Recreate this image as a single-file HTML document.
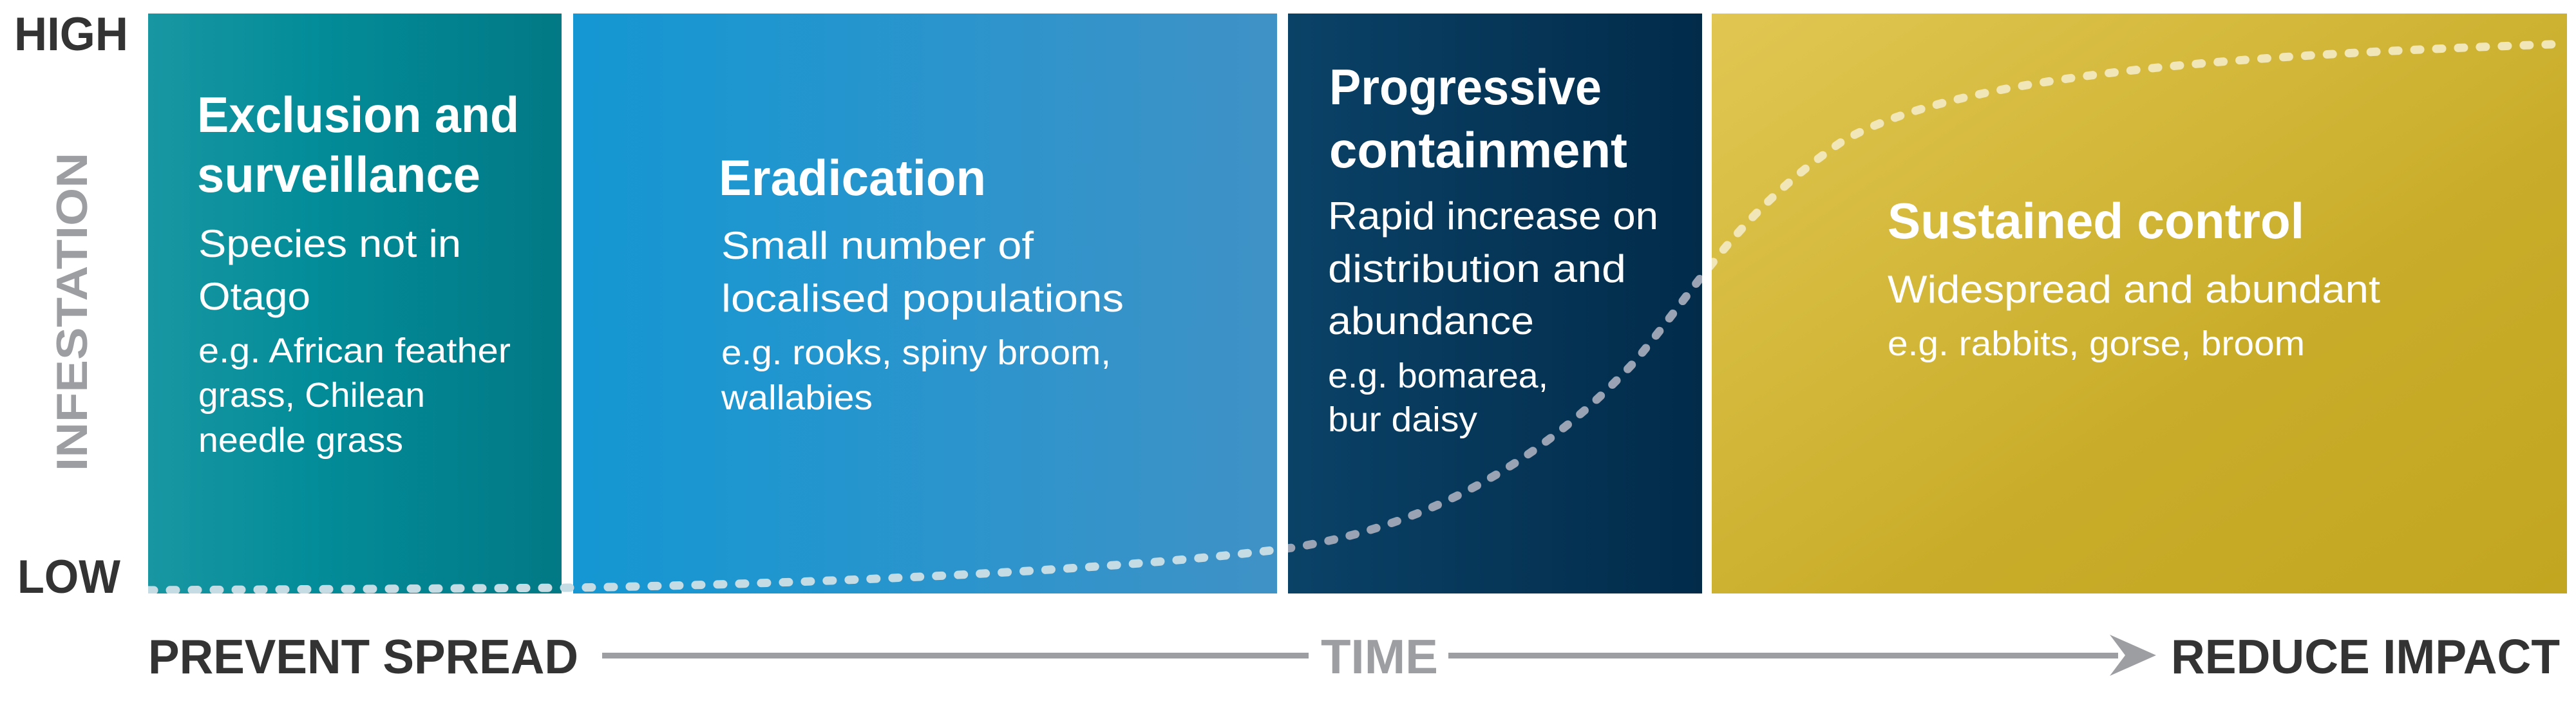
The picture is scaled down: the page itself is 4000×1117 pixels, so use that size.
<!DOCTYPE html>
<html><head><meta charset="utf-8"><style>html,body{margin:0;padding:0;background:#fff}svg{display:block}</style></head>
<body>
<svg width="4000" height="1117" viewBox="0 0 4000 1117" xmlns="http://www.w3.org/2000/svg" font-family="Liberation Sans, sans-serif">
<defs>
<linearGradient id="g1" x1="0" y1="0" x2="1" y2="0"><stop offset="0" stop-color="#1897a2"/><stop offset="0.4" stop-color="#038c99"/><stop offset="1" stop-color="#027985"/></linearGradient>
<linearGradient id="g2" x1="0" y1="0" x2="1" y2="0"><stop offset="0" stop-color="#1497d3"/><stop offset="1" stop-color="#3f92c6"/></linearGradient>
<linearGradient id="g3" x1="0" y1="0" x2="1" y2="0"><stop offset="0" stop-color="#0a4267"/><stop offset="1" stop-color="#022b4a"/></linearGradient>
<linearGradient id="g4" x1="0" y1="0" x2="1" y2="1"><stop offset="0" stop-color="#e1c752"/><stop offset="0.6" stop-color="#c9ad2a"/><stop offset="1" stop-color="#c2a520"/></linearGradient>
<clipPath id="c12"><rect x="230" y="21" width="1753" height="901"/></clipPath>
<clipPath id="c3"><rect x="2000" y="21" width="643" height="901"/></clipPath>
<clipPath id="c4"><rect x="2658" y="21" width="1328" height="901"/></clipPath>
</defs>
<rect x="230" y="21" width="642" height="901" fill="url(#g1)"/>
<rect x="890" y="21" width="1093" height="901" fill="url(#g2)"/>
<rect x="2000" y="21" width="643" height="901" fill="url(#g3)"/>
<rect x="2658" y="21" width="1328" height="901" fill="url(#g4)"/>
<g fill="none" stroke-width="13" stroke-linecap="round" stroke-dasharray="9 25">
<path d="M230,917 L890,913 C1300,906 1750,885 2006,851 C2250,812 2420,690 2540,560 C2640,440 2700,330 2860,220 C3050,110 3500,85 3986,68" stroke="#c6dce4" clip-path="url(#c12)"/>
<path d="M230,917 L890,913 C1300,906 1750,885 2006,851 C2250,812 2420,690 2540,560 C2640,440 2700,330 2860,220 C3050,110 3500,85 3986,68" stroke="#9aa3b3" clip-path="url(#c3)"/>
<path d="M230,917 L890,913 C1300,906 1750,885 2006,851 C2250,812 2420,690 2540,560 C2640,440 2700,330 2860,220 C3050,110 3500,85 3986,68" stroke="#f1e6b8" clip-path="url(#c4)"/>
</g>
<g fill="#333" font-weight="bold">
<text x="22" y="78" font-size="73" textLength="177" lengthAdjust="spacingAndGlyphs">HIGH</text>
<text x="27" y="921" font-size="73" textLength="160" lengthAdjust="spacingAndGlyphs">LOW</text>
<text x="230" y="1046" font-size="75" textLength="668" lengthAdjust="spacingAndGlyphs">PREVENT SPREAD</text>
<text x="3371" y="1046" font-size="75" textLength="604" lengthAdjust="spacingAndGlyphs">REDUCE IMPACT</text>
</g>
<text x="2051" y="1046" font-size="75" font-weight="bold" fill="#9d9ea2" textLength="182" lengthAdjust="spacingAndGlyphs">TIME</text>
<text transform="translate(135,732) rotate(-90)" font-size="68" font-weight="bold" fill="#9d9ea2" textLength="495" lengthAdjust="spacingAndGlyphs">INFESTATION</text>
<g fill="#9d9ea2">
<rect x="935" y="1014" width="1097" height="9"/>
<rect x="2249" y="1014" width="1040" height="9"/>
<polygon points="3276,986 3348,1018 3276,1050 3300,1018"/>
</g>
<g fill="#fff" font-weight="bold" font-size="78">
<text x="306" y="205" textLength="500" lengthAdjust="spacingAndGlyphs">Exclusion and</text>
<text x="306" y="298" textLength="440" lengthAdjust="spacingAndGlyphs">surveillance</text>
<text x="1116" y="303" textLength="415" lengthAdjust="spacingAndGlyphs">Eradication</text>
<text x="2064" y="162" textLength="423" lengthAdjust="spacingAndGlyphs">Progressive</text>
<text x="2064" y="260" textLength="463" lengthAdjust="spacingAndGlyphs">containment</text>
<text x="2931" y="370" textLength="647" lengthAdjust="spacingAndGlyphs">Sustained control</text>
</g>
<g fill="#fff" font-size="60">
<text x="308" y="399" textLength="408" lengthAdjust="spacingAndGlyphs">Species not in</text>
<text x="308" y="481" textLength="174" lengthAdjust="spacingAndGlyphs">Otago</text>
<text x="1120" y="402" textLength="485" lengthAdjust="spacingAndGlyphs">Small number of</text>
<text x="1120" y="484" textLength="625" lengthAdjust="spacingAndGlyphs">localised populations</text>
<text x="2062" y="356" textLength="513" lengthAdjust="spacingAndGlyphs">Rapid increase on</text>
<text x="2062" y="438" textLength="463" lengthAdjust="spacingAndGlyphs">distribution and</text>
<text x="2062" y="519" textLength="320" lengthAdjust="spacingAndGlyphs">abundance</text>
<text x="2931" y="470" textLength="765" lengthAdjust="spacingAndGlyphs">Widespread and abundant</text>
</g>
<g fill="#fff" font-size="54">
<text x="308" y="563" textLength="485" lengthAdjust="spacingAndGlyphs">e.g. African feather</text>
<text x="308" y="632" textLength="352" lengthAdjust="spacingAndGlyphs">grass, Chilean</text>
<text x="308" y="702" textLength="318" lengthAdjust="spacingAndGlyphs">needle grass</text>
<text x="1120" y="566" textLength="605" lengthAdjust="spacingAndGlyphs">e.g. rooks, spiny broom,</text>
<text x="1120" y="636" textLength="235" lengthAdjust="spacingAndGlyphs">wallabies</text>
<text x="2062" y="602" textLength="342" lengthAdjust="spacingAndGlyphs">e.g. bomarea,</text>
<text x="2062" y="670" textLength="232" lengthAdjust="spacingAndGlyphs">bur daisy</text>
<text x="2931" y="552" textLength="648" lengthAdjust="spacingAndGlyphs">e.g. rabbits, gorse, broom</text>
</g>
</svg>
</body></html>
